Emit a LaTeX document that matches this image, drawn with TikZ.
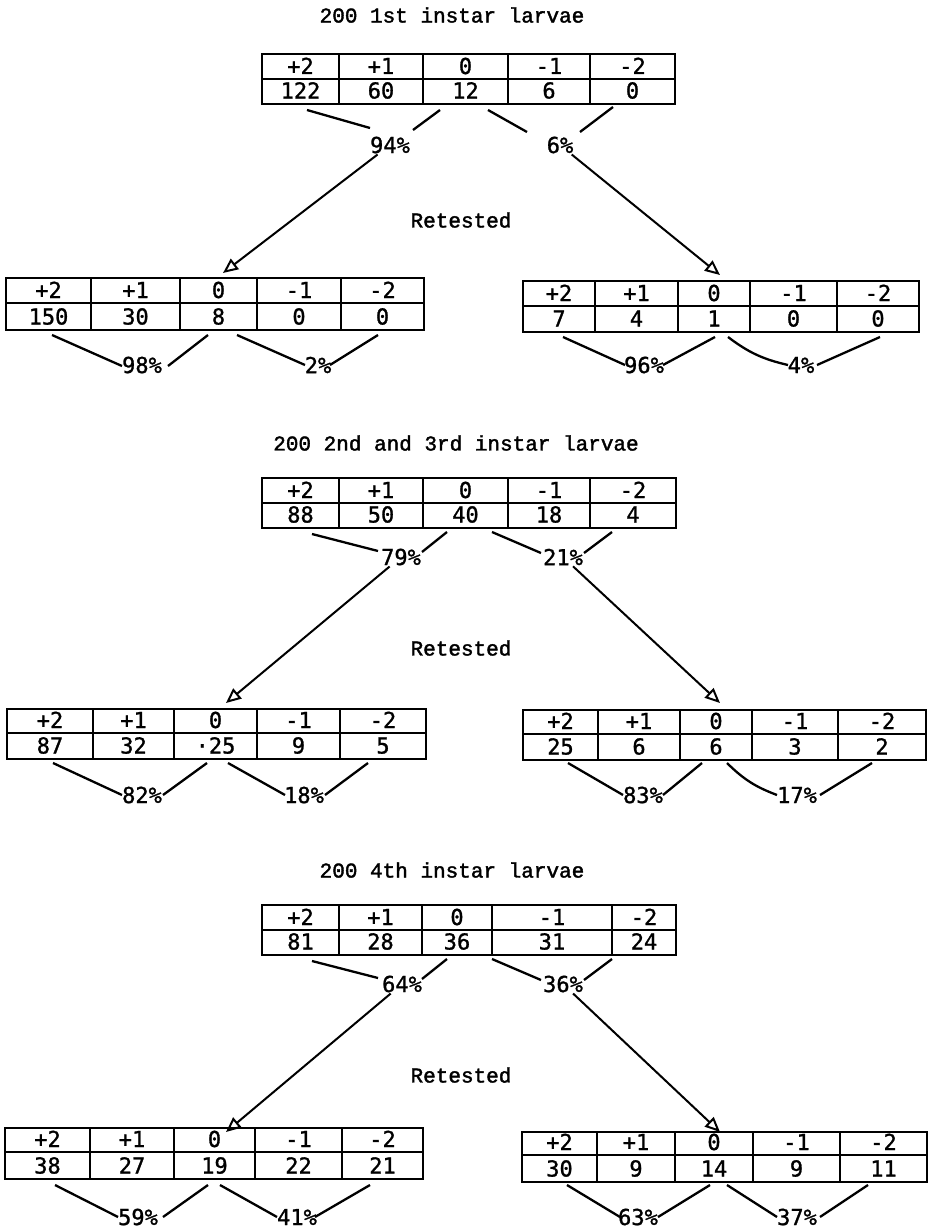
\documentclass[tikz,border=0pt]{standalone}
\usepackage{fontspec}
\usetikzlibrary{arrows.meta}
\newfontfamily\cellfont[FakeBold=1.2]{DejaVu Sans Mono}
\newfontfamily\typefont[FakeBold=1.8]{Liberation Mono}

\tikzset{
  grid/.style={line width=2.3pt, line join=miter},
  num/.style={font=\cellfont\fontsize{22}{22}\selectfont, inner sep=0pt, anchor=base},
  pct/.style={font=\cellfont\fontsize{22}{22}\selectfont, inner sep=1pt},
  heading/.style={font=\typefont\fontsize{21}{21}\selectfont, inner sep=0pt},
  link/.style={line width=2.3pt},
  retest/.style={line width=2pt, -{Triangle[open,length=15pt,width=13pt]}},
}

% Two-row table: #1 name, #2 top, #3 middle rule, #4 bottom,
% #5 list of left/right/heading/count for each column
\newcommand\countstable[5]{%
  \foreach \xl/\xr/\hd/\vl [count=\i] in {#5} {
    \draw[grid] (\xl,#2) rectangle (\xr,#3) (\xl,#3) rectangle (\xr,#4);
    \node[num] (#1-h\i) at ({(\xl+\xr)/2},{#3-5}) {\hd};
    \node[num] (#1-v\i) at ({(\xl+\xr)/2},{#4-5.5}) {\vl};
  }
}

% Percentage label with the two strokes leading into it
% [#1] options of the left stroke, #2 name, #3 position, #4 text,
% #5,#6 left stroke ends, #7,#8 right stroke ends
\newcommand\fork[8][]{%
  \node[pct] (#2) at (#3) {#4};
  \coordinate (#2-a) at (#5);
  \coordinate (#2-b) at (#6);
  \coordinate (#2-c) at (#7);
  \coordinate (#2-d) at (#8);
  \draw[link] (#2-a) to[#1] (#2-b);
  \draw[link] (#2-c) -- (#2-d);
}

\begin{document}
\begin{tikzpicture}[x=1pt,y=-1pt]
\useasboundingbox[fill=white] (0,0) rectangle (936,1231);

% ---------- 1st instar ----------
\node[heading] (t1) at (452,15) {200 1st instar larvae};
\countstable{A}{54}{79}{104}{262/339/+2/122, 339/423/+1/60, 423/508/0/12, 508/590/-1/6, 590/675/-2/0}
\fork{A1}{390,145}{94\%}{307,110}{370,128}{413,130}{440,110}
\fork{A2}{560,145}{6\%}{488,110}{527,132}{580,132}{613,107}
\node[heading] (r1) at (461,220) {Retested};
\coordinate (A1tip) at (223,273);
\coordinate (A2tip) at (720,275);
\draw[retest] (A1) -- (A1tip);
\draw[retest] (A2) -- (A2tip);

\countstable{B}{278}{303}{330}{6/91/+2/150, 91/180/+1/30, 180/257/0/8, 257/341/-1/0, 341/424/-2/0}
\fork{B1}{142,365}{98\%}{52,335}{122,366}{168,366}{208,335}
\fork{B2}{318,365}{2\%}{237,335}{305,365}{330,365}{378,335}

\countstable{C}{281}{306}{332}{523/595/+2/7, 595/678/+1/4, 678/750/0/1, 750/837/-1/0, 837/919/-2/0}
\fork{C1}{644,365}{96\%}{563,337}{625,365}{663,365}{715,337}
\fork[bend right=12]{C2}{801,365}{4\%}{728,337}{788,365}{817,365}{880,337}

% ---------- 2nd and 3rd instar ----------
\node[heading] (t2) at (456,443) {200 2nd and 3rd instar larvae};
\countstable{D}{478}{503}{528}{262/339/+2/88, 339/423/+1/50, 423/508/0/40, 508/590/-1/18, 590/676/-2/4}
\fork{D1}{401,557}{79\%}{312,534}{378,551}{422,552}{447,532}
\fork{D2}{563,557}{21\%}{492,532}{541,553}{584,553}{612,532}
\node[heading] (r2) at (461,648) {Retested};
\coordinate (D1tip) at (226,703);
\coordinate (D2tip) at (720,703);
\draw[retest] (D1) -- (D1tip);
\draw[retest] (D2) -- (D2tip);

\countstable{E}{709}{733}{759}{7/93/+2/87, 93/174/+1/32, 174/257/0/·25, 257/340/-1/9, 340/426/-2/5}
\fork{E1}{142,795}{82\%}{53,763}{122,795}{163,795}{207,763}
\fork{E2}{304,795}{18\%}{228,763}{285,795}{325,795}{368,763}

\countstable{F}{710}{734}{760}{523/598/+2/25, 598/680/+1/6, 680/752/0/6, 752/838/-1/3, 838/926/-2/2}
\fork{F1}{643,795}{83\%}{568,763}{623,795}{663,795}{702,763}
\fork[bend right=12]{F2}{797,795}{17\%}{727,763}{777,795}{820,795}{872,763}

% ---------- 4th instar ----------
\node[heading] (t3) at (452,870) {200 4th instar larvae};
\countstable{G}{905}{930}{955}{262/339/+2/81, 339/422/+1/28, 422/492/0/36, 492/612/-1/31, 612/676/-2/24}
\fork{G1}{402,984}{64\%}{312,961}{378,978}{422,979}{447,959}
\fork{G2}{563,984}{36\%}{492,959}{541,980}{584,980}{612,959}
\node[heading] (r3) at (461,1075) {Retested};
\coordinate (G1tip) at (226,1132);
\coordinate (G2tip) at (720,1132);
\draw[retest] (G1) -- (G1tip);
\draw[retest] (G2) -- (G2tip);

\countstable{H}{1128}{1152}{1179}{5/90/+2/38, 90/174/+1/27, 174/255/0/19, 255/342/-1/22, 342/423/-2/21}
\fork{H1}{138,1217}{59\%}{55,1185}{118,1217}{163,1217}{208,1185}
\fork{H2}{297,1217}{41\%}{220,1185}{277,1217}{315,1217}{370,1185}

\countstable{I}{1132}{1155}{1182}{522/597/+2/30, 597/675/+1/9, 675/753/0/14, 753/840/-1/9, 840/927/-2/11}
\fork{I1}{638,1217}{63\%}{567,1185}{620,1217}{658,1217}{710,1185}
\fork{I2}{797,1217}{37\%}{727,1185}{777,1217}{820,1217}{868,1185}
\end{tikzpicture}
\end{document}
